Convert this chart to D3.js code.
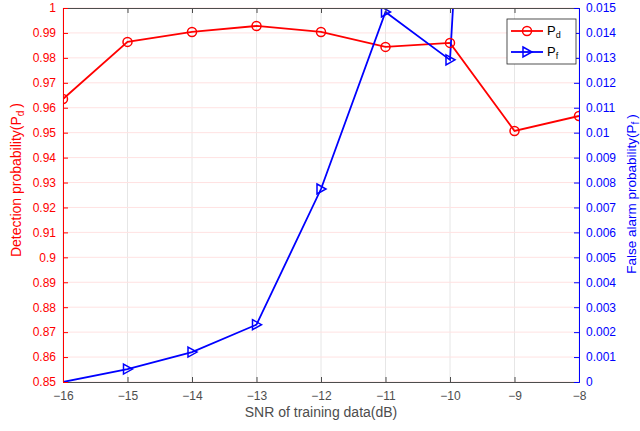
<!DOCTYPE html>
<html>
<head>
<meta charset="utf-8">
<script src="https://cdn.jsdelivr.net/npm/d3@7"></script>
<style>
body { margin: 0; background: #fff; }
text { font-family: "Liberation Sans", Arial, sans-serif; }
</style>
</head>
<body>
<div id="plot"></div>
<script>
var snr = [-16, -15, -14, -13, -12, -11, -10, -9, -8];
var pd = [0.9635, 0.9864, 0.9904, 0.9928, 0.9904, 0.9844, 0.986, 0.9507, 0.9567];
var pf = [0, 0.00052, 0.0012, 0.0023, 0.00774, 0.01484, 0.01292, 0.058, 0.05];
var pdTicks = d3.range(0, 16).map(function(i){ return +(0.85 + i * 0.01).toFixed(2) });
var pfTicks = d3.range(0, 16).map(function(i){ return +(i * 0.001).toFixed(3) });

var margin = {top: 8, right: 61, bottom: 49, left: 63};
var W = 640, H = 431;
var width = W - margin.left - margin.right;
var height = H - margin.top - margin.bottom;

var red = "#ff0000", blue = "#0000ff";

var x = d3.scaleLinear().domain([-16, -8]).range([0, width]);
var yL = d3.scaleLinear().domain([0.85, 1]).range([height, 0]);
var yR = d3.scaleLinear().domain([0, 0.015]).range([height, 0]);

var svg = d3.select("#plot").append("svg")
  .attr("width", W)
  .attr("height", H);
var g = svg.append("g")
  .attr("transform", "translate(" + margin.left + "," + margin.top + ")");

g.append("clipPath").attr("id", "clip")
  .append("rect").attr("width", width).attr("height", height);

// grid
g.selectAll(".vgrid")
  .data(snr)
  .enter().append("line")
  .attr("x1", function(d){ return x(d) })
  .attr("x2", function(d){ return x(d) })
  .attr("y1", 0).attr("y2", height)
  .attr("stroke", "#e6e6e6").attr("stroke-width", 1);
g.selectAll(".hgrid")
  .data(pdTicks)
  .enter().append("line")
  .attr("x1", 0).attr("x2", width)
  .attr("y1", function(d){ return yL(d) })
  .attr("y2", function(d){ return yL(d) })
  .attr("stroke", "#ffe2e2").attr("stroke-width", 1);

// series (clipped to plot box, like the original)
var plot = g.append("g").attr("clip-path", "url(#clip)");

var pdPts = snr.map(function(d, i){ return [d, pd[i]] });
var pfPts = snr.map(function(d, i){ return [d, pf[i]] });

plot.append("path")
  .datum(pdPts)
  .attr("fill", "none").attr("stroke", red).attr("stroke-width", 1.8)
  .attr("d", d3.line().x(function(d){ return x(d[0]) }).y(function(d){ return yL(d[1]) }));
plot.append("path")
  .datum(pfPts)
  .attr("fill", "none").attr("stroke", blue).attr("stroke-width", 1.8)
  .attr("d", d3.line().x(function(d){ return x(d[0]) }).y(function(d){ return yR(d[1]) }));

var tri = "M-4,-5L5,0L-4,5Z";

plot.selectAll(".pd")
  .data(pdPts)
  .enter().append("circle")
  .attr("cx", function(d){ return x(d[0]) })
  .attr("cy", function(d){ return yL(d[1]) })
  .attr("r", 4.5)
  .attr("fill", "none").attr("stroke", red).attr("stroke-width", 1.5);
plot.selectAll(".pf")
  .data(pfPts.filter(function(d){ return d[1] > 0 && d[1] <= 0.015 }))
  .enter().append("path")
  .attr("transform", function(d){ return "translate(" + x(d[0]) + "," + yR(d[1]) + ")" })
  .attr("d", tri)
  .attr("fill", "none").attr("stroke", blue).attr("stroke-width", 1.5);

// axes
var xAxis = g.append("g")
  .attr("transform", "translate(0," + height + ")")
  .call(d3.axisBottom(x).tickValues(snr).tickSize(-5).tickPadding(9).tickFormat(d3.format("d")));
xAxis.select(".domain").attr("stroke", "#4d4d4d");
xAxis.selectAll(".tick line").attr("stroke", "#4d4d4d");
xAxis.selectAll("text").attr("fill", "#4d4d4d").style("font-size", "12px");

var xTop = g.append("g")
  .call(d3.axisTop(x).tickValues(snr).tickSize(-5).tickFormat(""));
xTop.select(".domain").attr("stroke", "#4d4d4d");
xTop.selectAll(".tick line").attr("stroke", "#4d4d4d");

var leftAxis = g.append("g")
  .call(d3.axisLeft(yL).tickValues(pdTicks).tickSize(-5).tickPadding(7).tickFormat(function(d){ return d3.format("")(d) }));
leftAxis.select(".domain").attr("stroke", red);
leftAxis.selectAll(".tick line").attr("stroke", red);
leftAxis.selectAll("text").attr("fill", red).style("font-size", "12px");

var rightAxis = g.append("g")
  .attr("transform", "translate(" + width + ",0)")
  .call(d3.axisRight(yR).tickValues(pfTicks).tickSize(-5).tickPadding(7).tickFormat(function(d){ return d3.format("")(d) }));
rightAxis.select(".domain").attr("stroke", blue);
rightAxis.selectAll(".tick line").attr("stroke", blue);
rightAxis.selectAll("text").attr("fill", blue).style("font-size", "12px");

// axis labels
svg.append("text")
  .attr("x", margin.left + width / 2)
  .attr("y", 417)
  .attr("text-anchor", "middle")
  .attr("fill", "#4d4d4d")
  .style("font-size", "14px")
  .text("SNR of training data(dB)");

var lblL = svg.append("text")
  .attr("transform", "translate(21,180) rotate(-90)")
  .attr("text-anchor", "middle")
  .attr("fill", red)
  .style("font-size", "14px");
lblL.append("tspan").text("Detection probability(P");
lblL.append("tspan").attr("baseline-shift", "-30%").style("font-size", "10px").text("d");
lblL.append("tspan").attr("dx", 3).text(")");

var lblR = svg.append("text")
  .attr("transform", "translate(636,194) rotate(-90)")
  .attr("text-anchor", "middle")
  .attr("fill", blue)
  .style("font-size", "13.5px");
lblR.append("tspan").text("False alarm probability(P");
lblR.append("tspan").attr("baseline-shift", "-30%").style("font-size", "10px").text("f");
lblR.append("tspan").attr("dx", 3).text(")");

// legend
var leg = svg.append("g").attr("transform", "translate(507,19)");
leg.append("rect")
  .attr("width", 69).attr("height", 45)
  .attr("fill", "#fff").attr("stroke", "#262626").attr("stroke-width", 0.8);
leg.append("line").attr("x1", 4).attr("x2", 36).attr("y1", 12).attr("y2", 12)
  .attr("stroke", red).attr("stroke-width", 1.8);
leg.append("circle").attr("cx", 20).attr("cy", 12).attr("r", 4.5)
  .attr("fill", "none").attr("stroke", red).attr("stroke-width", 1.5);
leg.append("line").attr("x1", 4).attr("x2", 36).attr("y1", 33).attr("y2", 33)
  .attr("stroke", blue).attr("stroke-width", 1.8);
leg.append("path").attr("transform", "translate(20,33)").attr("d", tri)
  .attr("fill", "none").attr("stroke", blue).attr("stroke-width", 1.5);

var t1 = leg.append("text").attr("x", 40).attr("y", 16).attr("fill", "#000").style("font-size", "13px");
t1.append("tspan").text("P");
t1.append("tspan").attr("baseline-shift", "-30%").style("font-size", "9px").text("d");
var t2 = leg.append("text").attr("x", 40).attr("y", 37).attr("fill", "#000").style("font-size", "13px");
t2.append("tspan").text("P");
t2.append("tspan").attr("baseline-shift", "-30%").style("font-size", "9px").text("f");
</script>
</body>
</html>
